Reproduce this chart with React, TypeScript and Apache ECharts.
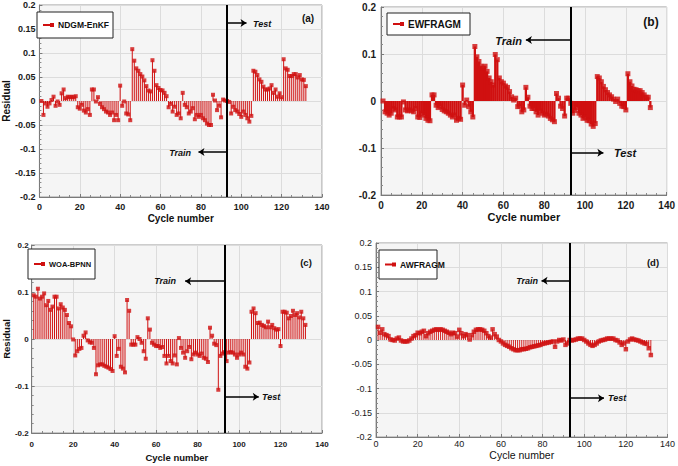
import React, { useEffect, useRef } from "react";
import * as echarts from "echarts";

// Cycle index shared by all four residual series
const cycles: number[] = Array.from({ length: 132 }, (_, i) => i + 1);

// Residuals per model
const ndgmEnkf = [
  0.000, -0.029, -0.005, -0.012, -0.005, 0.002, 0.009, -0.010, -0.001, -0.008,
  0.016, 0.024, 0.006, 0.009, 0.008, 0.009, 0.008, 0.010, -0.013, -0.016,
  -0.008, -0.020, -0.024, -0.017, -0.029, 0.024, 0.024, -0.001, 0.008, -0.006,
  -0.013, -0.017, -0.022, -0.024, -0.029, -0.024, -0.040, -0.029, -0.040, 0.032,
  -0.010, -0.001, -0.026, -0.028, -0.040, 0.108, 0.084, 0.068, 0.063, 0.056,
  0.051, 0.043, 0.031, 0.022, 0.020, 0.085, 0.063, 0.033, 0.027, 0.023,
  0.022, 0.017, 0.010, -0.013, -0.006, -0.022, -0.012, -0.029, -0.026, -0.036,
  0.017, -0.008, -0.013, -0.026, -0.022, -0.015, -0.038, -0.029, -0.033, -0.029,
  -0.036, -0.040, -0.047, -0.050, -0.050, 0.013, 0.001, -0.019, -0.010, -0.034,
  0.003, 0.001, 0.000, -0.002, -0.026, -0.012, -0.019, -0.022, -0.027, -0.033,
  -0.022, -0.029, -0.036, -0.043, -0.031, 0.063, 0.061, 0.054, 0.045, 0.040,
  0.030, 0.024, 0.024, 0.026, 0.033, 0.017, 0.024, 0.009, 0.016, 0.008,
  0.087, 0.068, 0.065, 0.052, 0.052, 0.056, 0.056, 0.049, 0.054, 0.045, 0.044, 0.031,
];

const ewfragm = [
  0.000, -0.023, -0.026, -0.030, -0.026, -0.016, -0.019, -0.034, -0.034, -0.034,
  -0.002, -0.019, -0.021, -0.019, -0.021, -0.023, -0.016, -0.034, -0.035, -0.026,
  -0.030, -0.037, -0.041, -0.042, 0.013, 0.013, -0.009, -0.014, -0.011, -0.018,
  -0.021, -0.023, -0.026, -0.030, -0.034, -0.030, -0.041, -0.037, -0.039, 0.034,
  -0.009, 0.002, -0.012, -0.023, -0.034, 0.116, 0.094, 0.084, 0.074, 0.070,
  0.074, 0.063, 0.049, 0.041, 0.034, 0.099, 0.088, 0.049, 0.041, 0.038,
  0.032, 0.029, 0.020, 0.009, 0.002, 0.006, -0.012, -0.011, -0.023, -0.019,
  0.029, 0.008, -0.011, -0.016, -0.016, -0.023, -0.030, -0.021, -0.026, -0.030,
  -0.028, -0.032, -0.037, -0.040, -0.044, 0.016, 0.006, -0.011, -0.016, -0.032,
  0.006, 0.006, -0.005, -0.026, -0.020, -0.014, -0.026, -0.030, -0.037, -0.035,
  -0.041, -0.042, -0.049, -0.054, -0.048, 0.052, 0.049, 0.041, 0.031, 0.024,
  0.018, 0.013, 0.009, 0.004, -0.001, 0.004, -0.005, -0.011, -0.012, -0.019,
  0.058, 0.041, 0.032, 0.025, 0.024, 0.022, 0.022, 0.018, 0.013, 0.008, 0.008, -0.014,
];

const woaBpnn = [
  0.093, 0.090, 0.107, 0.086, 0.090, 0.097, 0.072, 0.081, 0.062, 0.069,
  0.090, 0.090, 0.065, 0.074, 0.067, 0.062, 0.051, 0.034, 0.027, -0.001,
  -0.035, -0.026, -0.021, -0.019, 0.007, 0.014, -0.003, -0.007, -0.008, -0.019,
  -0.075, -0.056, -0.054, -0.054, -0.057, -0.059, -0.061, -0.064, -0.068, 0.006,
  -0.036, -0.021, -0.059, -0.063, -0.071, 0.083, 0.060, -0.012, -0.012, -0.012,
  0.004, 0.000, -0.008, -0.026, -0.042, 0.044, 0.020, -0.008, -0.012, -0.015,
  -0.015, -0.019, -0.017, -0.036, -0.052, -0.036, -0.047, -0.052, -0.035, -0.054,
  0.002, -0.019, -0.029, -0.040, -0.026, -0.017, -0.043, -0.033, -0.029, -0.033,
  -0.036, -0.031, -0.040, -0.042, -0.049, 0.024, 0.007, -0.010, -0.013, -0.108,
  -0.036, -0.031, -0.028, -0.047, -0.029, -0.028, -0.029, -0.033, -0.040, -0.033,
  -0.029, -0.033, -0.059, -0.063, -0.050, 0.058, 0.065, 0.055, 0.034, 0.035,
  0.030, 0.028, 0.025, 0.037, 0.025, 0.030, 0.023, 0.020, 0.021, -0.015,
  0.058, 0.058, 0.056, 0.044, 0.049, 0.060, 0.051, 0.055, 0.046, 0.058, 0.044, 0.030,
];

const awfragm = [
  0.027, 0.015, 0.022, 0.012, 0.010, 0.008, 0.001, 0.000, -0.001, 0.003,
  0.005, -0.001, -0.003, -0.003, -0.003, -0.001, 0.003, 0.008, 0.010, 0.015,
  0.014, 0.017, 0.019, 0.008, 0.014, 0.017, 0.019, 0.021, 0.022, 0.021,
  0.022, 0.021, 0.019, 0.017, 0.015, 0.012, 0.015, 0.014, 0.007, 0.021,
  0.014, 0.008, 0.012, 0.010, 0.001, 0.010, 0.017, 0.021, 0.022, 0.022,
  0.021, 0.019, 0.014, 0.008, 0.005, 0.022, 0.012, 0.007, 0.000, -0.003,
  -0.007, -0.010, -0.012, -0.014, -0.017, -0.019, -0.021, -0.021, -0.021, -0.019,
  -0.019, -0.018, -0.017, -0.015, -0.014, -0.013, -0.012, -0.011, -0.010, -0.008,
  -0.007, -0.006, -0.005, -0.004, -0.003, -0.014, -0.003, 0.000, -0.001, 0.001,
  -0.010, -0.007, 0.000, -0.001, 0.000, 0.001, 0.003, 0.003, 0.003, 0.000,
  -0.003, -0.007, -0.010, -0.012, -0.010, -0.007, -0.003, -0.001, 0.000, 0.001,
  0.003, 0.003, 0.003, 0.003, 0.000, -0.001, -0.005, -0.010, -0.007, -0.019,
  -0.003, 0.001, 0.003, 0.001, 0.000, -0.001, -0.003, -0.005, -0.007, -0.008, -0.017, -0.031,
];

// Train / test boundary
const splitCycle = 93;

const RED = "#d01010";
const SANS = '"Liberation Sans", Arial, sans-serif';
const NARROW = '"Liberation Sans Narrow", "Liberation Sans", Arial, sans-serif';

type Panel = {
  name: string;
  values: number[];
  tag: string;
  grid: { left: number; top: number; width: number; height: number };
  yInterval: number;
  font: string;
  tickSize: number;
  tickWeight: string;
  titleSize: number;
  titleWeight: string;
  yName: string;
  yNameGap: number;
  xNameGap: number;
  xLabelMargin: number;
  yLabelMargin: number;
  stemWidth: number;
  symbolSize: number;
  trainArrow: [number, number];
  testArrow: [number, number];
  trainText: [number, number];
  testText: [number, number];
  noteSize: number;
  tagPos: [number, number];
  tagSize: number;
  legend: { x: number; y: number; w: number; h: number; size: number };
};

const panels: Panel[] = [
  {
    name: "NDGM-EnKF", values: ndgmEnkf, tag: "(a)",
    grid: { left: 34, top: 5, width: 288, height: 192 },
    yInterval: 0.05, font: SANS, tickSize: 9, tickWeight: "bold",
    titleSize: 10, titleWeight: "bold", yName: "Residual", yNameGap: 17, xNameGap: 16,
    xLabelMargin: 5, yLabelMargin: 4, stemWidth: 1, symbolSize: 4,
    trainArrow: [-0.106, 78.8], testArrow: [0.1625, 102.6],
    trainText: [191, 153], testText: [253, 24], noteSize: 9,
    tagPos: [308, 18], tagSize: 10,
    legend: { x: 37, y: 12, w: 76, h: 26, size: 8.5 },
  },
  {
    name: "EWFRAGM", values: ewfragm, tag: "(b)",
    grid: { left: 381, top: 7, width: 288, height: 188 },
    yInterval: 0.1, font: SANS, tickSize: 10, tickWeight: "bold",
    titleSize: 11, titleWeight: "bold", yName: "", yNameGap: 0, xNameGap: 16,
    xLabelMargin: 5, yLabelMargin: 5, stemWidth: 2.3, symbolSize: 5,
    trainArrow: [0.13, 71], testArrow: [-0.11, 109],
    trainText: [522, 41], testText: [614, 153], noteSize: 11,
    tagPos: [651, 22], tagSize: 12,
    legend: { x: 387, y: 13, w: 83, h: 22, size: 10 },
  },
  {
    name: "WOA-BPNN", values: woaBpnn, tag: "(c)",
    grid: { left: 23, top: 245, width: 299, height: 188 },
    yInterval: 0.1, font: SANS, tickSize: 8, tickWeight: "bold",
    titleSize: 9.5, titleWeight: "bold", yName: "Residual", yNameGap: 12, xNameGap: 19,
    xLabelMargin: 7, yLabelMargin: 3, stemWidth: 1, symbolSize: 4,
    trainArrow: [0.123, 74], testArrow: [-0.123, 109.5],
    trainText: [176, 281], testText: [262, 397], noteSize: 9,
    tagPos: [306, 262], tagSize: 9.5,
    legend: { x: 28, y: 249, w: 67, h: 30, size: 7.5 },
  },
  {
    name: "AWFRAGM", values: awfragm, tag: "(d)",
    grid: { left: 376, top: 243, width: 294, height: 194 },
    yInterval: 0.05, font: NARROW, tickSize: 9, tickWeight: "normal",
    titleSize: 10.5, titleWeight: "normal", yName: "", yNameGap: 0, xNameGap: 12,
    xLabelMargin: 2, yLabelMargin: 4, stemWidth: 0.9, symbolSize: 4.5,
    trainArrow: [0.122, 79.5], testArrow: [-0.12, 109.5],
    trainText: [538, 281], testText: [608, 398], noteSize: 9,
    tagPos: [653, 262], tagSize: 9.5,
    legend: { x: 379, y: 250, w: 58, h: 29, size: 8.5 },
  },
];

const fmt = (v: number) => String(Math.round(v * 100) / 100);

// Vertical stem from the zero baseline to each residual
function stemRenderer(width: number) {
  return (_params: any, api: any) => {
    const x = api.value(0);
    const y = api.value(1);
    const base = api.coord([x, 0]);
    const tip = api.coord([x, y]);
    return {
      type: "line",
      shape: { x1: base[0], y1: base[1], x2: base[0], y2: tip[1] },
      style: { stroke: RED, lineWidth: width },
    };
  };
}

function buildOption() {
  const grid: any[] = [];
  const xAxis: any[] = [];
  const yAxis: any[] = [];
  const series: any[] = [];
  const graphic: any[] = [];

  panels.forEach((p, i) => {
    grid.push({
      ...p.grid,
      show: true,
      backgroundColor: "#f5f5f5",
      borderColor: "#9a9a9a",
      borderWidth: 1,
    });
    const labelStyle = {
      fontFamily: p.font, fontSize: p.tickSize, fontWeight: p.tickWeight, color: "#1a1a1a",
    };
    xAxis.push({
      type: "value", gridIndex: i, min: 0, max: 140, interval: 20,
      name: "Cycle number", nameLocation: "middle", nameGap: p.xNameGap,
      nameTextStyle: { fontFamily: p.font, fontSize: p.titleSize, fontWeight: p.titleWeight, color: "#111" },
      axisLine: { show: true, onZero: false, lineStyle: { color: "#7a7a7a", width: 1 } },
      axisTick: { show: true, inside: true, length: 3, lineStyle: { color: "#7a7a7a" } },
      minorTick: { show: true, splitNumber: 4, length: 2, lineStyle: { color: "#8a8a8a" } },
      splitLine: { show: true, lineStyle: { color: "#dcdcdc", width: 1 } },
      axisLabel: { ...labelStyle, margin: p.xLabelMargin },
    });
    yAxis.push({
      type: "value", gridIndex: i, min: -0.2, max: 0.2, interval: p.yInterval,
      name: p.yName, nameLocation: "middle", nameGap: p.yNameGap,
      nameTextStyle: { fontFamily: p.font, fontSize: p.titleSize, fontWeight: "bold", color: "#111" },
      axisLine: { show: true, lineStyle: { color: "#7a7a7a", width: 1 } },
      axisTick: { show: true, inside: true, length: 3, lineStyle: { color: "#7a7a7a" } },
      minorTick: { show: true, splitNumber: 5, length: 2, lineStyle: { color: "#8a8a8a" } },
      splitLine: { show: true, lineStyle: { color: "#dcdcdc", width: 1 } },
      axisLabel: { ...labelStyle, margin: p.yLabelMargin, formatter: fmt },
    });

    const pts = cycles.map((c, k) => [c, p.values[k]]);
    series.push({
      type: "custom", name: p.name, xAxisIndex: i, yAxisIndex: i, data: pts,
      renderItem: stemRenderer(p.stemWidth), silent: true, z: 2,
      encode: { x: 0, y: 1 },
      markLine: {
        silent: true, symbol: ["none", "none"], label: { show: false }, z: 5,
        data: [
          [
            { coord: [splitCycle, -0.2], lineStyle: { color: "#000", width: 2, type: "solid" } },
            { coord: [splitCycle, 0.2] },
          ],
          [
            { coord: [splitCycle, p.trainArrow[0]], lineStyle: { color: "#000", width: 1.5, type: "solid" } },
            { coord: [p.trainArrow[1], p.trainArrow[0]], symbol: "arrow", symbolSize: 6 },
          ],
          [
            { coord: [splitCycle, p.testArrow[0]], lineStyle: { color: "#000", width: 1.5, type: "solid" } },
            { coord: [p.testArrow[1], p.testArrow[0]], symbol: "arrow", symbolSize: 6 },
          ],
        ],
      },
    });
    series.push({
      type: "scatter", name: p.name + " marker", xAxisIndex: i, yAxisIndex: i, data: pts,
      symbol: "rect", symbolSize: p.symbolSize, itemStyle: { color: RED }, silent: true, z: 3,
    });

    const noteFont = `italic bold ${p.noteSize}px ${p.font}`;
    graphic.push(
      { type: "text", z: 100, style: { text: "Train", x: p.trainText[0], y: p.trainText[1], align: "right", verticalAlign: "middle", font: noteFont, fill: "#111" } },
      { type: "text", z: 100, style: { text: "Test", x: p.testText[0], y: p.testText[1], align: "left", verticalAlign: "middle", font: noteFont, fill: "#111" } },
      { type: "text", z: 100, style: { text: p.tag, x: p.tagPos[0], y: p.tagPos[1], align: "center", verticalAlign: "middle", font: `bold ${p.tagSize}px ${p.font}`, fill: "#111" } },
    );
    const lg = p.legend;
    const cy = lg.y + lg.h / 2;
    graphic.push(
      { type: "rect", z: 100, shape: { x: lg.x, y: lg.y, width: lg.w, height: lg.h }, style: { fill: "#fff", stroke: "#222", lineWidth: 1 } },
      { type: "line", z: 101, shape: { x1: lg.x + 6, y1: cy, x2: lg.x + 17, y2: cy }, style: { stroke: RED, lineWidth: 2 } },
      { type: "rect", z: 101, shape: { x: lg.x + 13, y: cy - 2, width: 4, height: 4 }, style: { fill: RED } },
      { type: "text", z: 101, style: { text: p.name, x: lg.x + 21, y: cy, align: "left", verticalAlign: "middle", font: `bold ${lg.size}px ${p.font}`, fill: "#111" } },
    );
  });

  return {
    animation: false,
    backgroundColor: "#ffffff",
    grid, xAxis, yAxis, series, graphic,
  };
}

export default function App() {
  const ref = useRef<HTMLDivElement>(null);
  useEffect(() => {
    if (!ref.current) return;
    const chart = echarts.init(ref.current, undefined, { renderer: "svg" });
    chart.setOption(buildOption());
    return () => chart.dispose();
  }, []);
  return (
    <div
      ref={ref}
      style={{ position: "fixed", left: 0, top: 0, width: 678, height: 466, background: "#fff" }}
    />
  );
}
